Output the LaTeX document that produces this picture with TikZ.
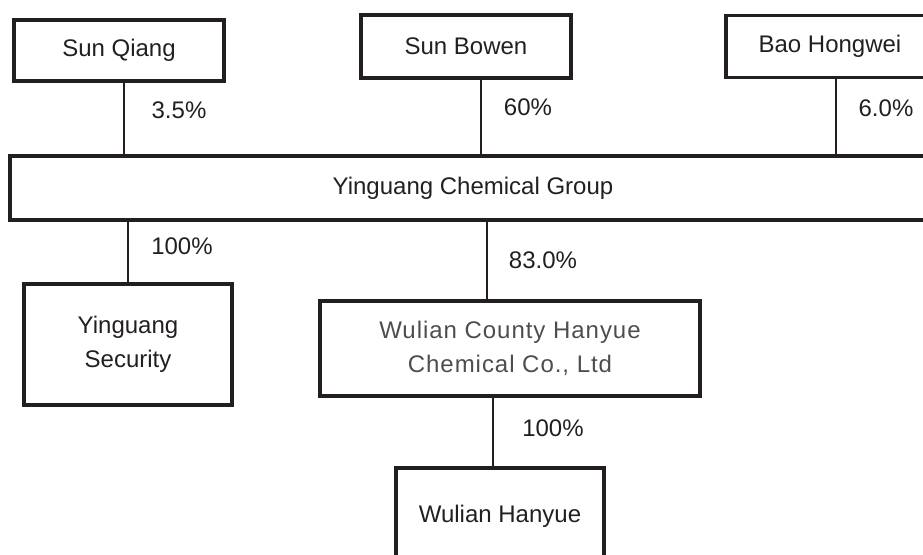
\documentclass[tikz,border=0pt]{standalone}
\usepackage{fontspec}
\setmainfont{Liberation Sans}
\definecolor{linec}{HTML}{231F20}
\definecolor{txt}{HTML}{231F20}
\definecolor{greytxt}{HTML}{4D4D4D}
\begin{document}
\begin{tikzpicture}[x=0.5pt,y=-0.5pt,
  box/.style={draw=linec, line width=1.7pt, inner sep=0pt, align=center,
    font=\fontsize{12}{17}\selectfont, text=txt},
  conn/.style={draw=linec, line width=1pt},
  pct/.style={font=\fontsize{12}{14}\selectfont, text=txt, inner sep=0pt}]
\useasboundingbox (0,0) rectangle (923,555);
\clip (0,0) rectangle (923,555);
% top row
\node[box, minimum width=105pt, minimum height=30.5pt] (sq) at (119,50.5) {Sun Qiang};
\node[box, minimum width=105pt, minimum height=31.5pt] (sb) at (466,46.5) {Sun Bowen};
\node[box, minimum width=104pt, minimum height=31pt] (bh) at (830,46.5) {Bao Hongwei};
% group
\node[box, minimum width=463pt, minimum height=32pt] (grp) at (473,188) {Yinguang Chemical Group};
% subsidiaries
\node[box, minimum width=104pt, minimum height=60.5pt] (ys) at (128,344.5) {Yinguang\\Security};
\node[box, minimum width=190pt, minimum height=47.5pt, text=greytxt,
  font=\fontsize{12}{17}\selectfont\addfontfeature{LetterSpace=4}] (wc) at (510,348.5) {Wulian County Hanyue\\Chemical Co., Ltd};
\node[box, minimum width=104pt, minimum height=48pt] (wh) at (500,516) {Wulian Hanyue};
% connectors
\draw[conn] (sq.south -| 124,0) -- (grp.north -| 124,0);
\draw[conn] (sb.south -| 481,0) -- (grp.north -| 481,0);
\draw[conn] (bh.south -| 836,0) -- (grp.north -| 836,0);
\draw[conn] (grp.south -| 128,0) -- (ys.north -| 128,0);
\draw[conn] (grp.south -| 487,0) -- (wc.north -| 487,0);
\draw[conn] (wc.south -| 493,0) -- (wh.north -| 493,0);
% labels
\node[pct] (l1) at (179,110) {3.5\%};
\node[pct] (l2) at (528,107) {60\%};
\node[pct] (l3) at (886,108) {6.0\%};
\node[pct] (l4) at (182,246) {100\%};
\node[pct] (l5) at (543,260) {83.0\%};
\node[pct] (l6) at (553,428) {100\%};
\end{tikzpicture}
\end{document}
